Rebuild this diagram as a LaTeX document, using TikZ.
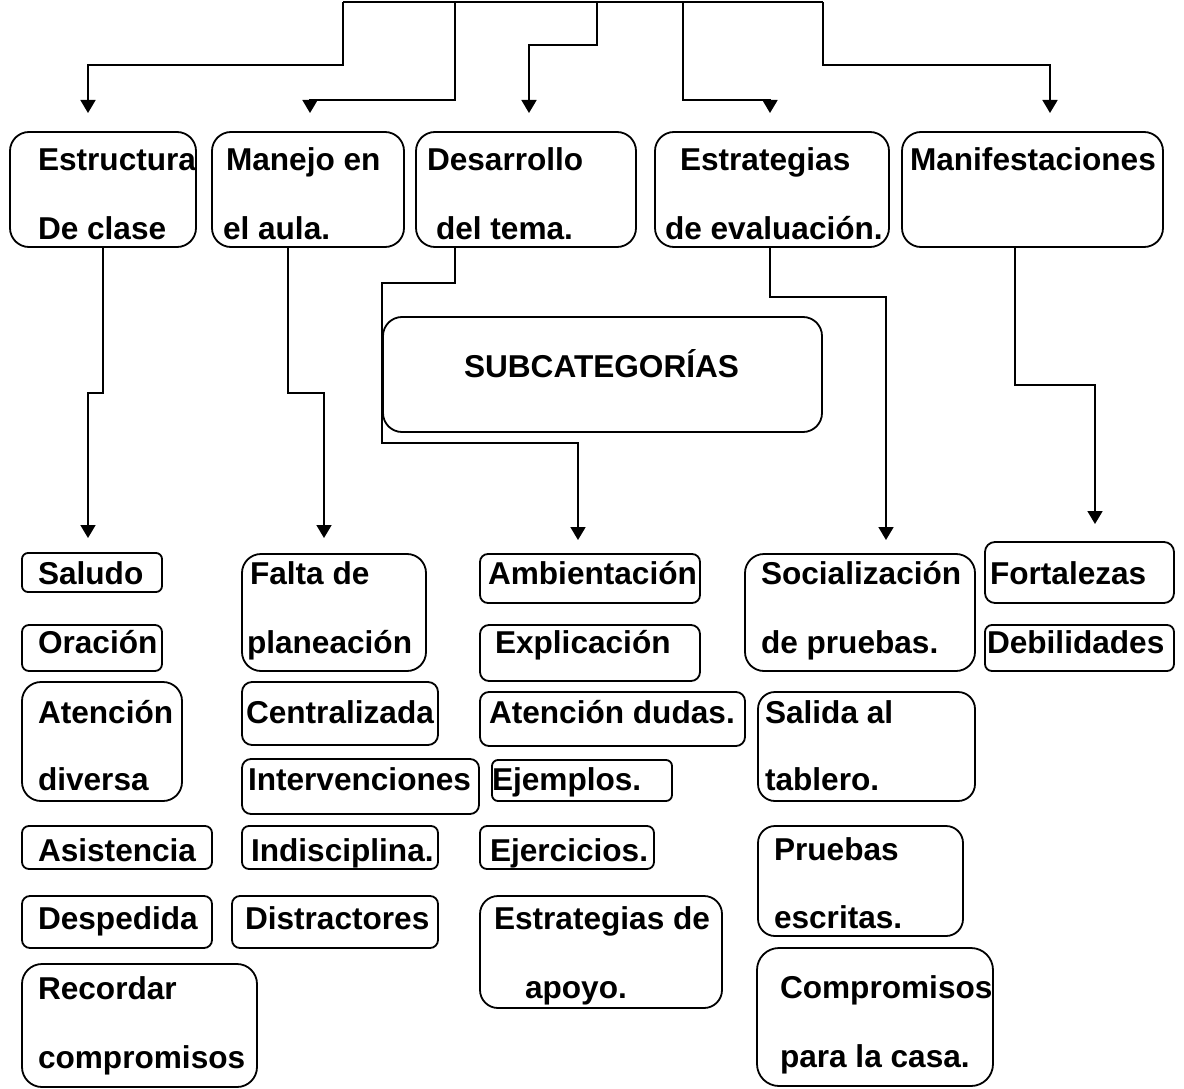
\documentclass[tikz,border=0pt]{standalone}
\usepackage{fontspec}
\setmainfont{Liberation Sans}
\usetikzlibrary{arrows.meta}
\tikzset{
  bx/.style={draw, line width=1.8pt, rounded corners=#1, inner sep=0pt, outer sep=0pt, anchor=north west},
  bx/.default=18pt,
  lb/.style={anchor=base west, inner sep=0pt, outer sep=0pt, font=\fontsize{31.6pt}{38pt}\selectfont\bfseries},
  conn/.style={line width=1.8pt},
  arr/.style={line width=1.8pt, -{Triangle[length=13pt,width=15pt]}},
}
\newcommand\mybox[6]{\node[bx=#6pt, minimum width={#4pt-#2pt}, minimum height={#5pt-#3pt}] (#1) at (#2,#3) {};}
\newcommand\mylab[4]{\node[lb] (#1) at (#2,#3) {#4};}
\begin{document}
\begin{tikzpicture}[x=1pt,y=-1pt]
\useasboundingbox[fill=white] (0,0) rectangle (1184,1089);
% top boxes
\mybox{estr}{10}{132}{196}{247}{19}
\mybox{manejo}{212}{132}{404}{247}{19}
\mybox{desarr}{416}{132}{636}{247}{19}
\mybox{estrat}{655}{132}{889}{247}{19}
\mybox{manif}{902}{132}{1163}{247}{19}
\mybox{subcat}{383}{317}{822}{432}{19}
% bottom boxes
\mybox{saludo}{22}{553}{162}{592}{6}
\mybox{oracion}{22}{625}{162}{671}{7}
\mybox{atencion}{22}{682}{182}{801}{19}
\mybox{asist}{22}{826}{212}{869}{7}
\mybox{desped}{22}{896}{212}{948}{8}
\mybox{record}{22}{964}{257}{1087}{20}
\mybox{falta}{242}{554}{426}{671}{19}
\mybox{central}{242}{682}{438}{745}{10}
\mybox{interv}{242}{759}{479}{814}{9}
\mybox{indisc}{242}{826}{438}{869}{7}
\mybox{distr}{232}{896}{438}{948}{8}
\mybox{ambient}{480}{554}{700}{603}{8}
\mybox{explic}{480}{625}{700}{681}{9}
\mybox{dudas}{480}{692}{745}{746}{9}
\mybox{ejemp}{492}{760}{672}{801}{6}
\mybox{ejerc}{480}{826}{654}{869}{7}
\mybox{estrapo}{480}{896}{722}{1008}{18}
\mybox{social}{745}{554}{975}{671}{19}
\mybox{salida}{758}{692}{975}{801}{17}
\mybox{pruebas}{758}{826}{963}{936}{17}
\mybox{comprom}{757}{948}{993}{1086}{22}
\mybox{fortal}{985}{542}{1174}{603}{10}
\mybox{debil}{985}{625}{1174}{671}{7}
% labels
\mylab{estrA}{38}{171}{Estructura}
\mylab{estrB}{38}{239}{De clase}
\mylab{manA}{226}{171}{Manejo en}
\mylab{manB}{223}{239}{el aula.}
\mylab{desA}{427}{171}{Desarrollo}
\mylab{desB}{436}{239}{del tema.}
\mylab{estA}{680}{171}{Estrategias}
\mylab{estB}{665}{239}{de evaluación.}
\mylab{manifA}{910}{171}{Manifestaciones}
\mylab{subA}{464}{377}{SUBCATEGORÍAS}
\mylab{salA}{38}{584}{Saludo}
\mylab{oraA}{38}{653}{Oración}
\mylab{atA}{38}{723}{Atención}
\mylab{atB}{38}{790}{diversa}
\mylab{asA}{38}{861}{Asistencia}
\mylab{deA}{38}{929}{Despedida}
\mylab{reA}{38}{999}{Recordar}
\mylab{reB}{38}{1068}{compromisos}
\mylab{faA}{250}{584}{Falta de}
\mylab{faB}{247}{653}{planeación}
\mylab{ceA}{246}{723}{Centralizada}
\mylab{inA}{248}{790}{Intervenciones}
\mylab{idA}{251}{861}{Indisciplina.}
\mylab{diA}{245}{929}{Distractores}
\mylab{amA}{488}{584}{Ambientación}
\mylab{exA}{495}{653}{Explicación}
\mylab{duA}{489}{723}{Atención dudas.}
\mylab{ejA}{492}{790}{Ejemplos.}
\mylab{ecA}{490}{861}{Ejercicios.}
\mylab{eaA}{494}{929}{Estrategias de}
\mylab{eaB}{525}{998}{apoyo.}
\mylab{soA}{761}{584}{Socialización}
\mylab{soB}{761}{653}{de pruebas.}
\mylab{sdA}{765}{723}{Salida al}
\mylab{sdB}{765}{790}{tablero.}
\mylab{prA}{774}{860}{Pruebas}
\mylab{prB}{774}{928}{escritas.}
\mylab{coA}{780}{998}{Compromisos}
\mylab{coB}{780}{1067}{para la casa.}
\mylab{foA}{990}{584}{Fortalezas}
\mylab{dbA}{987}{653}{Debilidades}
% top connectors
\coordinate (r1) at (343,2);
\coordinate (r2) at (455,2);
\coordinate (r3) at (597,2);
\coordinate (r4) at (683,2);
\coordinate (r5) at (823,2);
\coordinate (a1) at (88,113);
\coordinate (a2) at (310,113);
\coordinate (a3) at (529,113);
\coordinate (a4) at (770,113);
\coordinate (a5) at (1050,113);
\draw[conn] (r1) -- (r5);
\draw[arr] (r1) -- (343,65) -| (a1);
\draw[arr] (r2) -- (455,100) -| (a2);
\draw[arr] (r3) -- (597,45) -| (a3);
\draw[arr] (r4) -- (683,100) -| (a4);
\draw[arr] (r5) -- (823,65) -| (a5);
% lower connectors
\coordinate (b1) at (88,538);
\coordinate (b2) at (324,538);
\coordinate (b3) at (578,540);
\coordinate (b4) at (886,540);
\coordinate (b5) at (1095,524);
\draw[arr] (estr.south) -- (103,393) -| (b1);
\draw[arr] ([xshift=-20pt]manejo.south) -- (288,393) -| (b2);
\draw[arr] ([xshift=-71pt]desarr.south) -- (455,283) -- (382,283) -- (382,443) -| (b3);
\draw[arr] ([xshift=-2pt]estrat.south) -- (770,297) -| (b4);
\draw[arr] ([xshift=-17.5pt]manif.south) -- (1015,385) -| (b5);
\end{tikzpicture}
\end{document}
